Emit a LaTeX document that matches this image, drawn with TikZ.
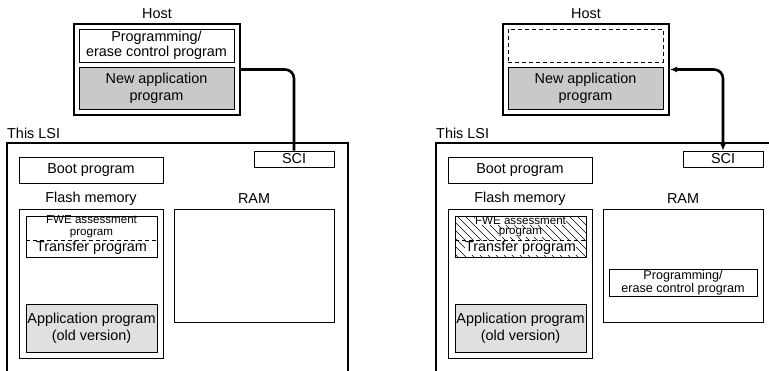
\documentclass[tikz,border=0pt]{standalone}
\usepackage{fontspec}
\setmainfont{Liberation Sans}
\usetikzlibrary{arrows.meta}
\begin{document}
\begin{tikzpicture}[x=1pt,y=-1pt,
  box/.style={draw, line width=0.8pt, inner sep=0pt, align=center, font=\fontsize{14.4}{17}\selectfont},
  thickbox/.style={draw, line width=2pt, inner sep=0pt},
  lbl/.style={inner sep=0pt, align=center, font=\fontsize{14.4}{17}\selectfont},
  small/.style={inner sep=0pt, align=center, font=\fontsize{11.6}{11.8}\selectfont},
  conn/.style={line width=2.6pt, rounded corners=9pt},
  tip/.style={{Latex[length=7pt,width=6pt]}-{Latex[length=7pt,width=6pt]}},
  darkgray/.style={fill=black!21},
  lightgray/.style={fill=black!12}]
\useasboundingbox (0,0) rectangle (769,370);
\clip (0,0) rectangle (769,370);

% ---------------- left panel ----------------
\node[lbl] (hostlblL) at (157,14) {Host};
\node[thickbox, minimum width=166pt, minimum height=91pt] (hostL) at (157,69.5) {};
\node[box, minimum width=155pt, minimum height=33pt, font=\fontsize{14.4}{14.5}\selectfont] (peL) at (156.5,45.5) {Programming/\\erase control program};
\node[box, darkgray, minimum width=155pt, minimum height=42pt] (newL) at (156.5,88) {New application\\program};

\node[lbl, anchor=base west] (lsilblL) at (7,138) {This LSI};
\draw[line width=2pt] (7,372) |- (348,143) -- (348,372);
\node[box, minimum width=80pt, minimum height=16pt] (sciL) at (294,159) {SCI};
\node[box, minimum width=144pt, minimum height=26pt] (bootL) at (91,170) {Boot program};
\node[lbl] (flashlblL) at (91,199) {Flash memory};
\node[box, minimum width=144pt, minimum height=149pt] (flashL) at (91,283.5) {};
\node[box, minimum width=131pt, minimum height=41pt] (fweL) at (91.5,236.5) {};
\node[small] (fwetxtL) at (91.5,226.8) {FWE assessment\\program};
\draw[line width=0.8pt, dash pattern=on 4pt off 3pt] (fweL.west |- 0,240) -- (fweL.east |- 0,240);
\node[lbl] (trL) at (91.5,248) {Transfer program};
\node[box, lightgray, minimum width=131pt, minimum height=48pt] (appL) at (91.5,328) {Application program\\(old version)};
\node[lbl] (ramlblL) at (254,199) {RAM};
\node[box, minimum width=160pt, minimum height=113pt] (ramL) at (254,265.5) {};

\draw[conn] (hostL.east) -| (sciL.north);

% ---------------- right panel ----------------
\begin{scope}[xshift=429pt]
\node[lbl] (hostlblR) at (157,14) {Host};
\node[thickbox, minimum width=166pt, minimum height=91pt] (hostR) at (157,69.5) {};
\node[box, dashed, dash pattern=on 4pt off 3pt, minimum width=155pt, minimum height=33pt] (peR) at (156.5,45.5) {};
\node[box, darkgray, minimum width=155pt, minimum height=42pt] (newR) at (156.5,88) {New application\\program};

\node[lbl, anchor=base west] (lsilblR) at (7,138) {This LSI};
\draw[line width=2pt] (7,372) |- (348,143) -- (348,372);
\node[box, minimum width=80pt, minimum height=16pt] (sciR) at (294,159) {SCI};
\node[box, minimum width=144pt, minimum height=26pt] (bootR) at (91,170) {Boot program};
\node[lbl] (flashlblR) at (91,199) {Flash memory};
\node[box, minimum width=144pt, minimum height=149pt] (flashR) at (91,283.5) {};
\begin{scope}
  \clip (26,216) rectangle (157,257);
  \foreach \i in {-60,-52,...,170} \draw[line width=0.5pt] (\i,216) -- ++(41,41);
\end{scope}
\node[box, minimum width=131pt, minimum height=41pt] (fweR) at (91.5,236.5) {};
\node[small, fill=white] (fwetxtR1) at (91.5,220.6) {FWE assessment};
\draw[line width=0.8pt, dash pattern=on 4pt off 3pt] (fweR.west |- 0,240) -- (fweR.east |- 0,240);
\node[small, fill=white] (fwetxtR2) at (91.5,233) {program};
\node[lbl, fill=white, inner sep=0.4pt] (trR) at (91.5,248) {Transfer program};
\node[box, lightgray, minimum width=131pt, minimum height=48pt] (appR) at (91.5,328) {Application program\\(old version)};
\node[lbl] (ramlblR) at (254,199) {RAM};
\node[box, minimum width=160pt, minimum height=113pt] (ramR) at (254,265.5) {};
\node[box, minimum width=148pt, minimum height=27pt, font=\fontsize{12.6}{12.6}\selectfont] (peRam) at (254,282.5) {Programming/\\erase control program};

\draw[conn, tip] (hostR.east) -| (sciR.north);
\end{scope}
\end{tikzpicture}
\end{document}
